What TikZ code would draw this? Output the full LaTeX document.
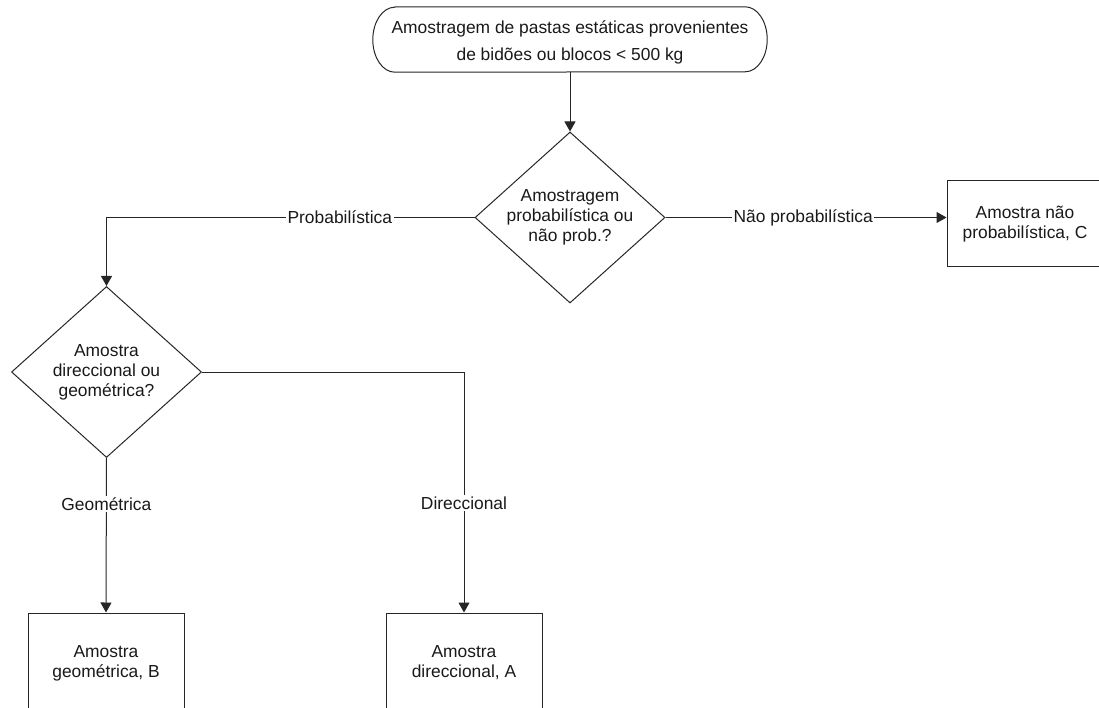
\documentclass[tikz,border=0pt]{standalone}
\usepackage{fontspec}
\setmainfont{Liberation Sans}
\usetikzlibrary{arrows.meta,shapes.geometric}

\tikzset{
  flow/.style={line width=1pt, draw=black!85},
  arrowline/.style={flow, -{Triangle[length=10pt,width=11pt]}},
  txt/.style={font=\fontsize{17.4}{20}\selectfont, text=black!90, align=center},
  % negative inner sep lets the minimum size fix the diamond exactly
  decision/.style={txt, diamond, flow, inner sep=-14pt, minimum width=190pt, minimum height=171pt},
  outcome/.style={txt, rectangle, flow, inner sep=0pt, minimum width=156pt},
  branchlabel/.style={txt, fill=white, inner sep=1.5pt}
}

\begin{document}
\begin{tikzpicture}[x=1pt, y=-1pt]
  \useasboundingbox (0,0) rectangle (1099,708);
  \clip (0,0) rectangle (1099,708);

  % start terminator, outline drawn with flat elliptical ends
  \node[txt, minimum width=394pt, minimum height=60pt, inner sep=0pt,
        font=\fontsize{17.4}{27}\selectfont] (start) at (570,42)
        {Amostragem de pastas estáticas provenientes\\de bidões ou blocos < 500 kg};
  \draw[flow] ([shift={(22pt,5pt)}]start.north west) -- ([shift={(-22pt,5pt)}]start.north east)
    arc[start angle=90, end angle=-90, x radius=22pt, y radius=32.5pt]
    -- ([xshift=22pt]start.south west)
    arc[start angle=270, end angle=90, x radius=22pt, y radius=32.5pt] -- cycle;

  % decisions
  \node[decision] (d1) at (570,217.5) {Amostragem\\probabilística ou\\não prob.?};
  \node[decision] (d2) at (106.5,372) {Amostra\\direccional ou\\geométrica?};

  % outcomes
  \node[outcome, minimum height=86pt] (c) at (1025,224) {Amostra não\\probabilística, C};
  \node[outcome, minimum height=100pt] (b) at (106,663) {Amostra\\geométrica, B};
  \node[outcome, minimum height=100pt] (a) at (464,663) {Amostra\\direccional, A};

  % connectors
  \draw[arrowline] (start.south) -- (d1.north);
  \draw[arrowline] (d1.west) -| node[branchlabel, pos=0.183] {Probabilística} (d2.north);
  \draw[arrowline] (d1.east) -- node[branchlabel, pos=0.49] {Não probabilística} (d1.east -| c.west);
  \draw[arrowline] (d2.east) -| node[branchlabel, pos=0.772] {Direccional} (a.north);
  \draw[arrowline] (d2.south) -- node[branchlabel, pos=0.3] {Geométrica} (b.north);
\end{tikzpicture}
\end{document}
